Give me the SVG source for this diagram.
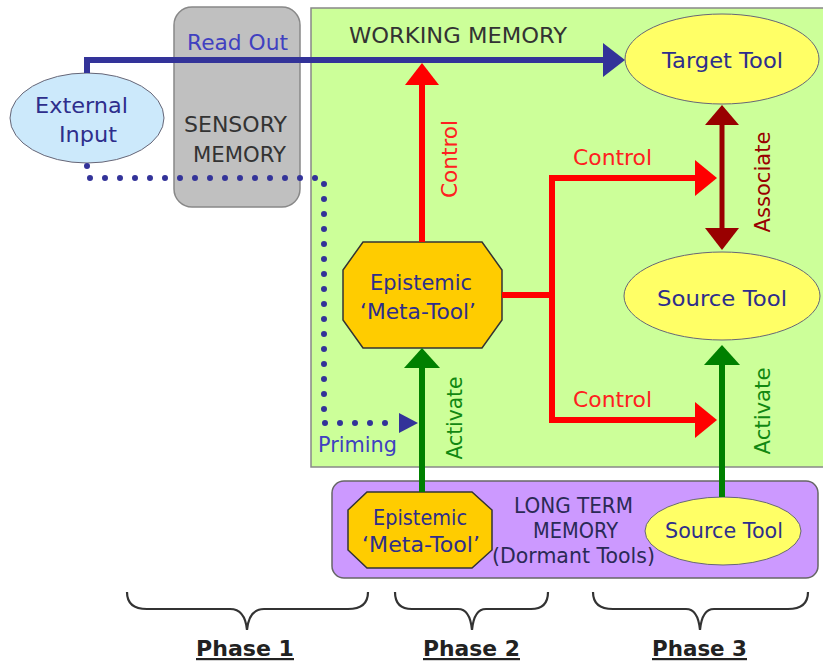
<svg xmlns="http://www.w3.org/2000/svg" width="823" height="662" viewBox="0 0 823 662">
<style>
text{font-family:"DejaVu Sans","Liberation Sans",sans-serif;font-size:22px}
.node{fill:#2e2e8c}
.lbl{fill:#333333}
.blue{fill:#4040c0}
.red{fill:#ff2020}
.green{fill:#118811}
.dred{fill:#990000}
.ph{font-weight:bold;fill:#222;text-decoration:underline}
.brace{fill:none;stroke:#333;stroke-width:2.2}
</style>
<rect width="823" height="662" fill="#ffffff"/>
<g id="working-memory">
<rect x="311" y="8" width="530" height="459" fill="#ccff99" stroke="#888" stroke-width="1.5"/>
<text class="lbl" x="349" y="43" textLength="218" lengthAdjust="spacingAndGlyphs">WORKING MEMORY</text>
</g>
<g id="sensory-memory">
<rect x="174" y="7" width="126" height="200" rx="18" fill="#c0c0c0" stroke="#888" stroke-width="1.5"/>
<text class="lbl" x="184" y="132" textLength="103" lengthAdjust="spacingAndGlyphs">SENSORY</text>
<text class="lbl" x="193" y="162" textLength="93" lengthAdjust="spacingAndGlyphs">MEMORY</text>
</g>
<g id="long-term-memory">
<rect x="332" y="481" width="486" height="97" rx="12" fill="#cc99ff" stroke="#666" stroke-width="1.5"/>
<text x="514" y="513" textLength="119" lengthAdjust="spacingAndGlyphs" fill="#2a2a55">LONG TERM</text>
<text x="533" y="538" textLength="85" lengthAdjust="spacingAndGlyphs" fill="#2a2a55">MEMORY</text>
<text x="492" y="563" textLength="163" lengthAdjust="spacingAndGlyphs" fill="#2a2a55">(Dormant Tools)</text>
</g>
<g id="external-input">
<ellipse cx="87" cy="118" rx="77" ry="45" fill="#cce9fb" stroke="#667" stroke-width="1"/>
<text class="node" x="35" y="113" textLength="93" lengthAdjust="spacingAndGlyphs">External</text>
<text class="node" x="59" y="142" textLength="58" lengthAdjust="spacingAndGlyphs">Input</text>
</g>
<g id="target-tool">
<ellipse cx="722" cy="59" rx="97" ry="45" fill="#ffff66" stroke="#667" stroke-width="1"/>
<text class="node" x="662" y="68" textLength="121" lengthAdjust="spacingAndGlyphs">Target Tool</text>
</g>
<g id="source-tool-wm">
<ellipse cx="722" cy="296" rx="98" ry="44" fill="#ffff66" stroke="#667" stroke-width="1"/>
<text class="node" x="657" y="306" textLength="130" lengthAdjust="spacingAndGlyphs">Source Tool</text>
</g>
<g id="meta-tool-wm">
<polygon points="363,242 482,242 502,270 502,320 482,348 363,348 343,320 343,270" fill="#ffcc00" stroke="#333" stroke-width="1.5"/>
<text class="node" x="370" y="290" textLength="102" lengthAdjust="spacingAndGlyphs">Epistemic</text>
<text class="node" x="360" y="319" textLength="116" lengthAdjust="spacingAndGlyphs">‘Meta-Tool’</text>
</g>
<g id="meta-tool-ltm">
<polygon points="367,492 472,492 492,510 492,550 472,568 367,568 348,550 348,510" fill="#ffcc00" stroke="#333" stroke-width="1.5"/>
<text class="node" x="373" y="525" textLength="94" lengthAdjust="spacingAndGlyphs">Epistemic</text>
<text class="node" x="362" y="552" textLength="118" lengthAdjust="spacingAndGlyphs">‘Meta-Tool’</text>
</g>
<g id="source-tool-ltm">
<ellipse cx="723" cy="531" rx="78" ry="34" fill="#ffff66" stroke="#667" stroke-width="1"/>
<text class="node" x="665" y="538" textLength="118" lengthAdjust="spacingAndGlyphs">Source Tool</text>
</g>
<g id="connectors">
<path d="M87,73 V60 H605" fill="none" stroke="#333399" stroke-width="6"/>
<polygon points="603,43 625,60 603,77" fill="#333399"/>
<text class="blue" x="187" y="50" textLength="101" lengthAdjust="spacingAndGlyphs">Read Out</text>
<path d="M87,166 V178 H324 V423 H398" fill="none" stroke="#333399" stroke-width="6" stroke-linecap="round" stroke-dasharray="0 15"/>
<polygon points="399,413 418,423 399,433" fill="#333399"/>
<text class="blue" x="318" y="452" textLength="79" lengthAdjust="spacingAndGlyphs">Priming</text>
<path d="M422,242 V83" fill="none" stroke="#ff0000" stroke-width="6"/>
<polygon points="405,85 422,63 439,85" fill="#ff0000"/>
<text class="red" transform="translate(457,159) rotate(-90)" text-anchor="middle" textLength="78" lengthAdjust="spacingAndGlyphs">Control</text>
<path d="M502,295 H552 M552,178 V420 M549,178 H697 M549,420 H697" fill="none" stroke="#ff0000" stroke-width="6"/>
<polygon points="695,160 717,178 695,196" fill="#ff0000"/>
<polygon points="695,402 717,420 695,438" fill="#ff0000"/>
<text class="red" x="573" y="165" textLength="79" lengthAdjust="spacingAndGlyphs">Control</text>
<text class="red" x="573" y="407" textLength="79" lengthAdjust="spacingAndGlyphs">Control</text>
<path d="M722,123 V230" fill="none" stroke="#990000" stroke-width="5"/>
<polygon points="705,125 722,105 739,125" fill="#990000"/>
<polygon points="705,228 722,250 739,228" fill="#990000"/>
<text class="dred" transform="translate(770,182) rotate(-90)" text-anchor="middle" textLength="101" lengthAdjust="spacingAndGlyphs">Associate</text>
<path d="M422,492 V366" fill="none" stroke="#008000" stroke-width="6"/>
<polygon points="404,368 422,348 440,368" fill="#008000"/>
<text class="green" transform="translate(462,418) rotate(-90)" text-anchor="middle" textLength="83" lengthAdjust="spacingAndGlyphs">Activate</text>
<path d="M722,497 V363" fill="none" stroke="#008000" stroke-width="6"/>
<polygon points="704,365 722,345 740,365" fill="#008000"/>
<text class="green" transform="translate(770,411) rotate(-90)" text-anchor="middle" textLength="87" lengthAdjust="spacingAndGlyphs">Activate</text>
</g>
<g id="phases">
<path class="brace" d="M127,592 Q127,609 147,609 H230 Q245,609 247,630 Q249,609 264,609 H348 Q368,609 368,592"/>
<path class="brace" d="M395,592 Q395,609 412,609 H458 Q470,609 472,630 Q474,609 486,609 H531 Q548,609 548,592"/>
<path class="brace" d="M593,592 Q593,609 613,609 H686 Q698,609 700,630 Q702,609 714,609 H788 Q808,609 808,592"/>
<text class="ph" x="196" y="656" textLength="98" lengthAdjust="spacingAndGlyphs">Phase 1</text>
<text class="ph" x="423" y="656" textLength="97" lengthAdjust="spacingAndGlyphs">Phase 2</text>
<text class="ph" x="652" y="656" textLength="95" lengthAdjust="spacingAndGlyphs">Phase 3</text>
</g>
</svg>
